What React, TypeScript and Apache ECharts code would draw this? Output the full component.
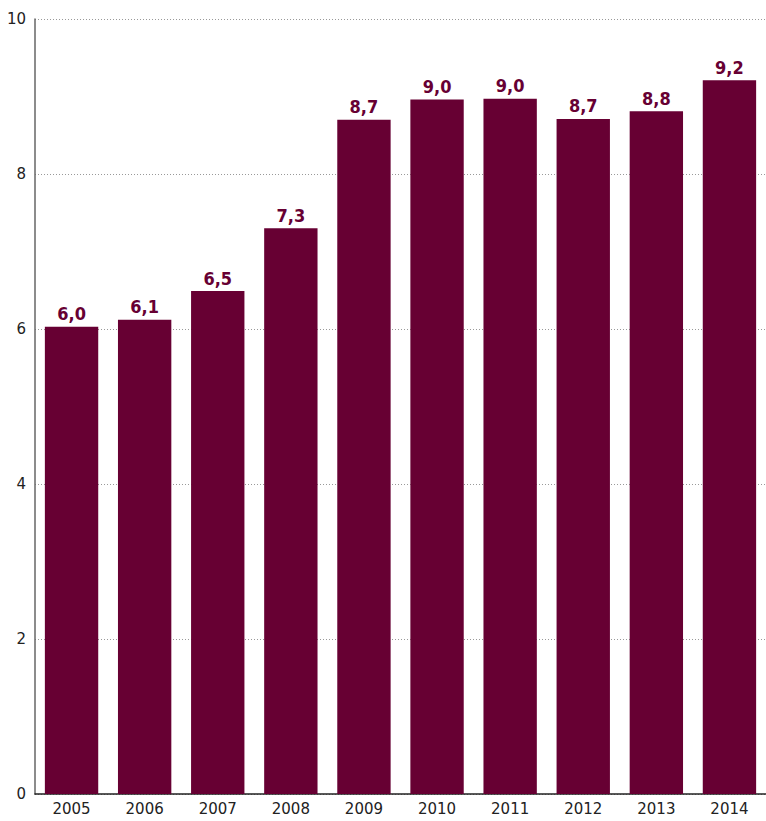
import React, { useEffect, useRef } from "react";
import * as echarts from "echarts";

const years = ["2005", "2006", "2007", "2008", "2009", "2010", "2011", "2012", "2013", "2014"];
const values = [6.03, 6.12, 6.49, 7.3, 8.7, 8.96, 8.97, 8.71, 8.81, 9.21];
const yTicks = [0, 2, 4, 6, 8, 10];

export default function App() {
  const ref = useRef<HTMLDivElement>(null);
  useEffect(() => {
    document.body.style.margin = "0";
    const chart = echarts.init(ref.current!, undefined, { renderer: "svg" });
    chart.setOption({
      animation: false,
      grid: { left: 35, right: 0, top: 19, bottom: 27, containLabel: false },
      xAxis: {
        type: "category",
        data: years,
        axisLine: { lineStyle: { color: "#222", width: 1.5 } },
        axisTick: { show: false },
        axisLabel: { color: "#222", fontFamily: "DejaVu Sans", fontSize: 15, margin: 7 },
      },
      yAxis: {
        type: "value",
        min: yTicks[0],
        max: yTicks[yTicks.length - 1],
        interval: 2,
        axisLine: { show: true, lineStyle: { color: "#666", width: 1.5 } },
        axisTick: { show: false },
        axisLabel: { color: "#222", fontFamily: "DejaVu Sans", fontSize: 15, margin: 9 },
        splitLine: { lineStyle: { color: "#999", type: [1, 2], width: 1 } },
      },
      series: [
        {
          type: "bar",
          data: values,
          barCategoryGap: "27%",
          itemStyle: { color: "#670033" },
          label: {
            show: true,
            position: "top",
            distance: 4,
            color: "#670033",
            fontWeight: "bold",
            fontFamily: "DejaVu Sans Condensed",
            fontSize: 18,
            formatter: (p: any) => p.value.toFixed(1).replace(".", ","),
          },
        },
      ],
    });
    return () => chart.dispose();
  }, []);
  return <div ref={ref} style={{ width: 766, height: 821 }} />;
}
